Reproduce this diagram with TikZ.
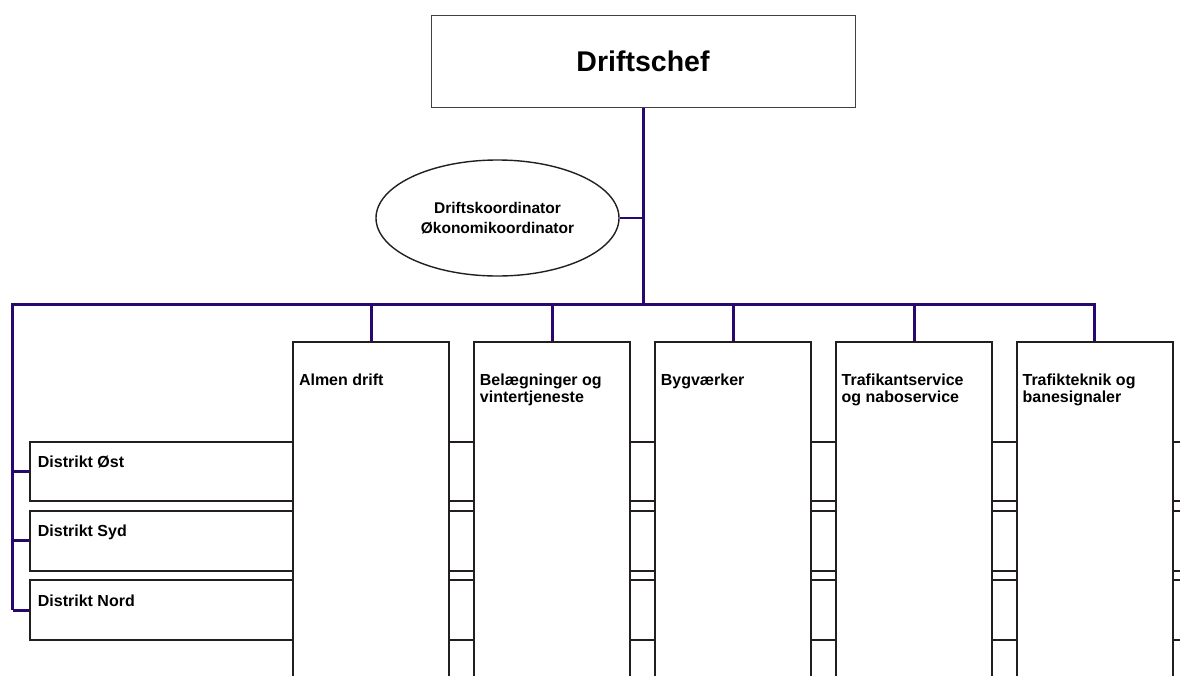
\documentclass[tikz,border=0pt]{standalone}
\usepackage{fontspec}
\setmainfont{Liberation Sans}
\usepackage{tikz}
\usetikzlibrary{positioning, calc, shapes.geometric}
\definecolor{linje}{RGB}{40,8,110}
\definecolor{kant}{RGB}{35,31,32}

\begin{document}
\begin{tikzpicture}[x=1pt, y=-1pt,
  boks/.style={draw=kant, line width=2pt, fill=white, rectangle, inner sep=0pt},
  kolonne/.style={boks, anchor=north west, minimum width=156pt, minimum height=360pt},
  distrikt/.style={boks, anchor=north west, minimum width=1200pt, minimum height=59.5pt},
  tekst/.style={font=\fontsize{16}{17.5}\selectfont\bfseries, align=left, inner sep=0pt},
  chefboks/.style={draw=black!75, line width=1pt, minimum width=424pt, minimum height=92pt,
    font=\fontsize{28.5}{32}\selectfont\bfseries},
  koordboks/.style={ellipse, draw=kant, line width=1.4pt, minimum width=243pt,
    minimum height=116pt, inner sep=0pt, align=center, font=\fontsize{15.5}{19.4}\selectfont\bfseries},
  forbind/.style={draw=linje, line width=3pt}]
\useasboundingbox (0,0) rectangle (1180,675);
\clip (0,0) rectangle (1180,675);

% ledelse
\node[chefboks] (chef) at (643,61.3) {Driftschef};
\node[koordboks] (koord) at (497.5,218) {Driftskoordinator\\Økonomikoordinator};

% distrikter (bag kolonnerne)
\foreach \i/\y/\navn in {1/440.7/Distrikt Øst, 2/510/Distrikt Syd, 3/579.3/Distrikt Nord} {
  \node[distrikt] (d\i) at (28.7,\y) {};
  \node[tekst, anchor=base west] (td\i) at ($(d\i.north west)+(9,26.8)$) {\navn};
}

% kolonner
\foreach \i/\x/\navn in {1/292.3/Almen drift, 2/473.2/{Belægninger og\\vintertjeneste},
    3/654.1/Bygværker, 4/835/{Trafikantservice\\og naboservice},
    5/1015.9/{Trafikteknik og\\banesignaler}} {
  \node[kolonne] (c\i) at (\x,340.7) {};
  \node[tekst, below right=32.8pt and 6.5pt of c\i.north west] (tc\i) {\navn};
}

% forbindelser
\coordinate (bus) at (12.5,304.3);
\draw[forbind] (chef.south) -- (chef.south |- bus);
\draw[forbind, line width=2.2pt] (koord.east) -- (koord.east -| chef.south);
\draw[forbind] (d3.west -| bus) -- (bus) -- (c5.north |- bus) -- (c5.north);
\foreach \i in {1,...,4}
  \draw[forbind] (c\i.north |- bus) -- (c\i.north);
\foreach \i in {1,2,3}
  \draw[forbind] (d\i.west -| bus) -- (d\i.west);

\end{tikzpicture}
\end{document}
